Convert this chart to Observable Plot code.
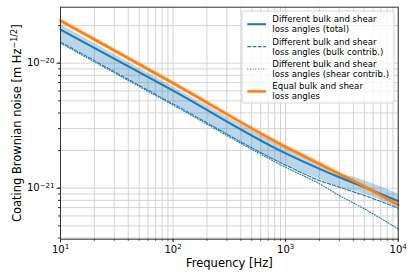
<!DOCTYPE html>
<html>
<head>
<meta charset="utf-8">
<script src="https://cdn.jsdelivr.net/npm/d3@7"></script>
<script src="https://cdn.jsdelivr.net/npm/@observablehq/plot@0.6"></script>
<style>
  html, body { margin: 0; padding: 0; background: white; }
  #chart svg { display: block; }
</style>
</head>
<body>
<div id="chart"></div>
<script>
// ---- Data ----
const freq    = [10, 100, 1000, 2000, 3000, 5000, 10000];
const total   = [1.86e-20, 6.03e-21, 1.90e-21, 1.43e-21, 1.225e-21, 1.02e-21, 7.9e-22];
const bulk    = [1.48e-20, 4.73e-21, 1.53e-21, 1.153e-21, 1.02e-21, 8.75e-22, 6.92e-22];
const shear   = [1.445e-20, 4.62e-21, 1.47e-21, 1.084e-21, 8.75e-22, 6.84e-22, 4.73e-22];
const equal   = [2.19e-20, 6.92e-21, 2.14e-21, 1.567e-21, 1.303e-21, 1.033e-21, 7.35e-22];
const totalLo = [1.49e-20, 4.79e-21, 1.52e-21, 1.175e-21, 1.023e-21, 9.0e-22, 6.92e-22];
const totalHi = [2.04e-20, 6.46e-21, 2.09e-21, 1.55e-21, 1.33e-21, 1.15e-21, 9.0e-22];
const equalLo = [2.09e-20, 6.61e-21, 2.04e-21, 1.50e-21, 1.245e-21, 9.85e-22, 7.0e-22];
const equalHi = [2.29e-20, 7.25e-21, 2.24e-21, 1.64e-21, 1.36e-21, 1.08e-21, 7.7e-22];

const xMajor = [10, 100, 1000, 10000];
const xMajorLabels = ["10^{1}", "10^{2}", "10^{3}", "10^{4}"];
const yMajor = [1e-21, 1e-20];
const yMajorLabels = ["10^{−21}", "10^{−20}"];
const xLabel = "Frequency [Hz]";
const yLabel = "Coating Brownian noise [m Hz^{−1/2}]";
const legendLabels = [
  ["Different bulk and shear", "loss angles (total)"],
  ["Different bulk and shear", "loss angles (bulk contrib.)"],
  ["Different bulk and shear", "loss angles (shear contrib.)"],
  ["Equal bulk and shear", "loss angles"]
];

const yDomain = [3.91e-22, 2.806e-20];

// minor grid positions (1..9 × decade), kept inside the axes
const xMinor = [], yMinor = [];
for (const d of [10, 100, 1000]) for (let k = 1; k <= 9; k++) xMinor.push(k * d);
xMinor.push(10000);
for (const d of [1e-22, 1e-21, 1e-20]) for (let k = 1; k <= 9; k++) {
  const v = k * d;
  if (v >= yDomain[0] && v <= yDomain[1]) yMinor.push(v);
}

const xLabelOf = new Map(xMajor.map((v, i) => [v, xMajorLabels[i]]));
const yLabelOf = new Map(yMajor.map((v, i) => [v, yMajorLabels[i]]));

const rows = freq.map((f, i) => ({
  f, total: total[i], bulk: bulk[i], shear: shear[i], equal: equal[i],
  totalLo: totalLo[i], totalHi: totalHi[i], equalLo: equalLo[i], equalHi: equalHi[i]
}));

const blue = "#1f77b4", orange = "#ff7f0e";

const svg = Plot.plot({
  width: 415,
  height: 277,
  marginLeft: 60,
  marginRight: 17.3,
  marginTop: 6.7,
  marginBottom: 38.3,
  style: { fontFamily: "DejaVu Sans", fontSize: "10px", background: "white", color: "#000" },
  x: { type: "log", domain: [10, 10000] },
  y: { type: "log", domain: yDomain },
  marks: [
    Plot.ruleX(xMinor, { stroke: "#cfcfcf", strokeWidth: 0.9 }),
    Plot.ruleY(yMinor, { stroke: "#cfcfcf", strokeWidth: 0.9 }),
    Plot.areaY(rows, { x: "f", y1: "totalLo", y2: "totalHi", fill: blue, fillOpacity: 0.3, curve: "monotone-x" }),
    Plot.areaY(rows, { x: "f", y1: "equalLo", y2: "equalHi", fill: orange, fillOpacity: 0.3, curve: "monotone-x" }),
    Plot.lineY(rows, { x: "f", y: "total", stroke: blue, strokeWidth: 2, curve: "monotone-x" }),
    Plot.lineY(rows, { x: "f", y: "bulk", stroke: blue, strokeWidth: 1.1, strokeDasharray: "3.7,1.6", curve: "monotone-x" }),
    Plot.lineY(rows, { x: "f", y: "shear", stroke: blue, strokeWidth: 1.1, strokeDasharray: "1,1.65", curve: "monotone-x" }),
    Plot.lineY(rows, { x: "f", y: "equal", stroke: orange, strokeWidth: 2.5, curve: "monotone-x" }),
    Plot.axisX(xMinor, { tickSize: 2, text: null, label: null, stroke: "#333" }),
    Plot.axisY(yMinor, { tickSize: 2, text: null, label: null, stroke: "#333" }),
    Plot.axisX(xMajor, { tickSize: 3.5, tickPadding: 3, tickFormat: d => xLabelOf.get(d), label: null, fontSize: 10, stroke: "#333" }),
    Plot.axisY(yMajor, { tickSize: 3.5, tickPadding: 2.5, tickFormat: d => yLabelOf.get(d), label: null, fontSize: 10, stroke: "#333" }),
    Plot.text([xLabel], { frameAnchor: "bottom", textAnchor: "middle", dy: 24, lineAnchor: "middle", fontSize: 11.5, text: d => d }),
    Plot.text([yLabel], { frameAnchor: "left", textAnchor: "middle", dx: -43, rotate: -90, lineAnchor: "middle", fontSize: 11.5, text: d => d }),
    Plot.frame({ stroke: "#333", strokeWidth: 1 })
  ]
});

// mathtext-like superscripts: "base^{exp}rest"
const NS = "http://www.w3.org/2000/svg";
svg.querySelectorAll("text").forEach(t => {
  const s = t.textContent;
  const m = s.match(/^(.*?)\^\{(.*?)\}(.*)$/);
  if (!m) return;
  while (t.firstChild) t.removeChild(t.firstChild);
  const a = document.createElementNS(NS, "tspan"); a.textContent = m[1]; t.appendChild(a);
  const b = document.createElementNS(NS, "tspan"); b.textContent = m[2];
  b.setAttribute("font-size", "70%"); b.setAttribute("dy", "-0.55em"); t.appendChild(b);
  if (m[3]) {
    const c = document.createElementNS(NS, "tspan"); c.textContent = m[3];
    c.setAttribute("dy", "0.385em"); t.appendChild(c);
  }
});

// legend (upper right, inside the axes)
const sel = d3.select(svg);
const lg = sel.append("g").attr("font-family", "DejaVu Sans").attr("font-size", 8.6).attr("text-anchor", "start");
lg.append("rect").attr("x", 242).attr("y", 11).attr("width", 152).attr("height", 92)
  .attr("rx", 2).attr("fill", "white").attr("fill-opacity", 0.8).attr("stroke", "#cccccc").attr("stroke-width", 0.8);
const styles = [
  { stroke: blue, w: 2, dash: null },
  { stroke: blue, w: 1.1, dash: "3.7,1.6" },
  { stroke: blue, w: 1.1, dash: "1,1.65" },
  { stroke: orange, w: 2.5, dash: null }
];
legendLabels.forEach((lines, i) => {
  const cy = 24.2 + i * 22.4;
  const st = styles[i];
  const l = lg.append("line").attr("x1", 247.3).attr("x2", 266).attr("y1", cy).attr("y2", cy)
    .attr("stroke", st.stroke).attr("stroke-width", st.w);
  if (st.dash) l.attr("stroke-dasharray", st.dash);
  lines.forEach((s, j) => {
    lg.append("text").attr("x", 272.3).attr("y", cy - 5 + j * 10).attr("dy", "0.35em")
      .attr("text-anchor", "start").text(s);
  });
});

document.getElementById("chart").appendChild(svg);
</script>
</body>
</html>
